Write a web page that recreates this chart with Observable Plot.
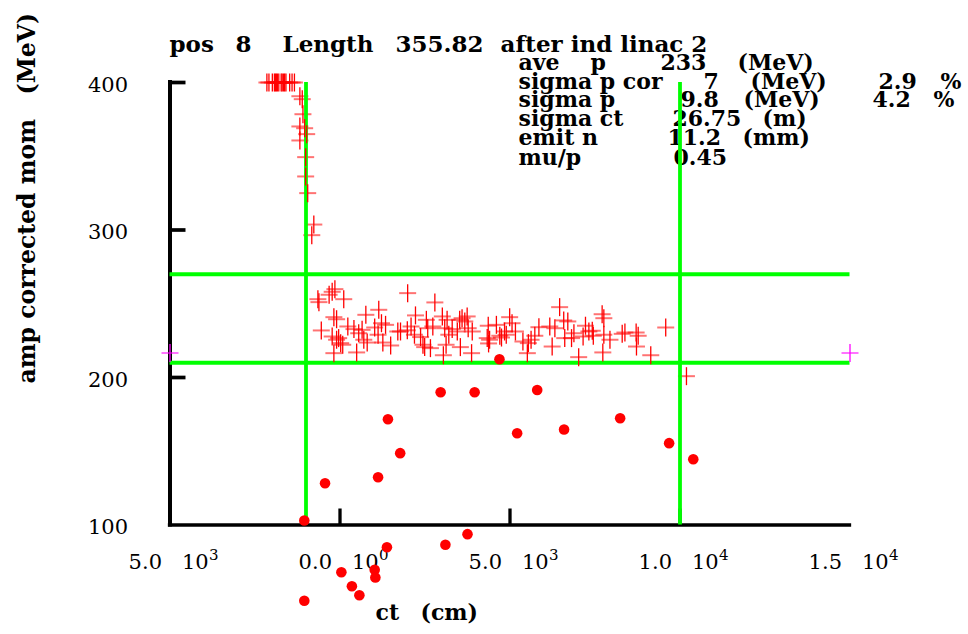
<!DOCTYPE html>
<html>
<head>
<meta charset="utf-8">
<script src="https://cdn.jsdelivr.net/npm/d3@7"></script>
<script src="https://cdn.jsdelivr.net/npm/@observablehq/plot@0.6"></script>
<style>
  html, body { margin: 0; padding: 0; background: #fff; }
  #chart { width: 968px; height: 634px; }
</style>
</head>
<body>
<div id="chart"></div>
<script>
// Longitudinal phase space at pos 8: ct (cm) vs amplitude-corrected momentum (MeV)

// particles piled up at the top of the momentum range
const headCt = [-2150, -2090, -1990, -1930, -1900, -1870, -1840, -1800, -1730, -1700, -1660, -1630, -1590, -1480, -1410, -1340,
  -1180, -1110, -1090, -1180, -1180, -1040, -980, -1010, -1010, -950, -770, -830];
const headP = [400, 400, 400, 400, 400, 400, 400, 400, 400, 400, 400, 400, 400, 400, 400, 400,
  390.7, 388.7, 378.5, 370.2, 360.7, 369.0, 365.0, 349.4, 336.3, 325.0, 303.7, 296.5];

// main bunch
const coreCt = [-650, -620, -320, -230, -150, 110, -550, -180, -100, -230, -100, -40, 20, 80, -180, 230, 410, 490, 550, 650,
  700, 800, 760, 1140, 1120, 1220, 1340, 1490, 1700, 1020, 1260,
  1990, 2790, 1780, 1980, 2090, 2220, 2190, 2370, 2440, 2490, 2540, 2580, 2660, 2730, 3010, 3040, 3080, 3150, 3120, 3200,
  3300, 3450, 3520, 3590, 3670, 3740, 3770, 3540, 3870, 3890, 4360, 4330, 4400, 4370,
  4600, 4700, 4750, 4840, 4890, 4990, 5060, 5160, 5380, 5510, 5540, 5620, 5730, 5850, 6170, 6240, 6320, 6460, 6580, 6700,
  6610, 6810, 6880, 7020, 7150, 7320, 7220,
  7420, 7450, 7710, 7760, 7760, 7940, 7730, 8300, 8380, 8710, 8770, 8720, 9140, 9580, 10190];
const coreP = [253.1, 251.1, 256.1, 258.1, 259.9, 253.1, 231.9, 240.9, 239.5, 227.8, 225.6, 226.7, 223.3, 222.2, 216.5, 234.6, 232.8, 217.0, 230.0, 232.3,
  225.6, 223.7, 242.5, 245.9, 229.0, 236.8, 235.7, 221.7, 231.2, 233.9, 223.7,
  257.2, 250.9, 231.2, 232.0, 234.6, 242.1, 229.0, 227.4, 222.2, 220.6, 239.1, 233.4, 219.9, 234.6, 241.4, 215.1, 233.4, 239.1, 222.2, 229.0,
  232.8, 231.2, 239.1, 240.2, 238.0, 241.4, 233.4, 220.6, 216.5, 231.2, 235.1, 226.7, 225.6, 223.1,
  235.7, 228.3, 227.1, 231.2, 229.0, 240.9, 236.8, 231.2, 224.4, 216.5, 223.3, 225.6, 228.3, 234.1, 234.6, 221.0, 233.4, 247.7, 238.7, 238.0,
  226.7, 226.7, 230.0, 213.8, 227.8, 231.2, 235.1,
  231.7, 228.3, 242.9, 240.2, 229.0, 225.6, 217.0, 229.6, 230.5, 230.5, 228.3, 221.0, 215.1, 233.9, 200.9];

// muons
const muCt = [-1050, -440, 1120, 1410, 1770, 2960, 3960, 5800, 5210, 6590, 8240, 9680, 10390, 4690,
  1380, 3100, 3750, 40, 1020, 1040, 350, 570, -1050];
const muP = [103.1, 128.3, 132.4, 171.7, 148.7, 190.0, 190.0, 191.5, 162.2, 164.7, 172.4, 155.5, 144.6, 212.4,
  84.9, 86.6, 93.8, 68.0, 69.6, 64.4, 58.5, 52.4, 48.6];

// reference markers at the plot edges
const refCt = [-5000, 15000];
const refP = [216.6, 216.6];

// acceptance window
const cutCt = [-1000, 10000];
const cutP = [210, 270];

// axes
const xTicks = [-5000, 0, 5000, 10000, 15000];
const xMantissa = ["5.0", "0.0", "5.0", "1.0", "1.5"];
const xExponent = ["3", "0", "3", "4", "4"];
const xTickMarks = [0, 5000, 10000];
const yTicks = [100, 200, 300, 400];
const yTickMarks = [200, 300, 400];

// heading and beam statistics
const titleWords = ["pos", "8", "Length", "355.82", "after ind linac 2"];
const statRows = [
  ["ave", "p", "233", "(MeV)"],
  ["sigma p cor", "7", "(MeV)", "2.9", "%"],
  ["sigma p", "9.8", "(MeV)", "4.2", "%"],
  ["sigma ct", "26.75", "(m)"],
  ["emit n", "11.2", "(mm)"],
  ["mu/p", "0.45"]
];
const xLabel = ["ct", "(cm)"];
const yLabel = "amp corrected mom\u00a0\u00a0\u00a0(MeV)";

// ---- layout (pixels) ----
const W = 968, H = 634;
const ML = 169.5, MR = 118.5, MT = 82, MB = 109.5;
const titleX = [169, 235, 282, 395, 500];
const titleBase = 51;
const statX = [
  [518, 590, 660, 737],
  [518, 703, 750, 878, 940],
  [518, 680, 743, 872, 933],
  [518, 672, 762],
  [518, 667, 742],
  [518, 673]
];
const statBase = [69, 88, 106.5, 125, 144, 164];
const xLabelX = [375, 420];
const xLabelBase = 619;

const boldFont = "DejaVu Serif";
const tickFont = "DejaVu Serif";

const zip = (cts, ps) => cts.map((ct, i) => ({ct, p: ps[i]}));
const crosses = zip(headCt.concat(coreCt), headP.concat(coreP));
const muons = zip(muCt, muP);
const refs = zip(refCt, refP);
const xTickRows = xTicks.map((v, i) => ({v, m: xMantissa[i], e: xExponent[i]}));

// gnuplot-style "+" drawn as two separate strokes
const hBar = {draw(ctx) { ctx.moveTo(-8.5, 0); ctx.lineTo(8.5, 0); }};
const vBar = {draw(ctx) { ctx.moveTo(0, -9); ctx.lineTo(0, 9); }};

function label(text, px, py, opts = {}) {
  return Plot.text([text], {
    text: d => d, frameAnchor: "top-left", dx: px - ML, dy: py - MT,
    textAnchor: "start", lineAnchor: "bottom", fontSize: 22, fontWeight: "bold",
    fontFamily: boldFont, fill: "black", ...opts
  });
}

const textMarks = [];
titleWords.forEach((w, i) => textMarks.push(label(w, titleX[i], titleBase, {fontSize: 23})));
statRows.forEach((row, r) => row.forEach((w, c) => textMarks.push(label(w, statX[r][c], statBase[r]))));
xLabel.forEach((w, i) => textMarks.push(label(w, xLabelX[i], xLabelBase)));
textMarks.push(label(yLabel, 34, 383, {rotate: -90, fontSize: 23.5}));

const chart = Plot.plot({
  width: W, height: H,
  marginLeft: ML, marginRight: MR, marginTop: MT, marginBottom: MB,
  x: {domain: [-5000, 15000], axis: null},
  y: {domain: [100, 400], axis: null},
  style: {background: "white", overflow: "visible", fontFamily: tickFont},
  marks: [
    ...textMarks,
    // axis lines and inward ticks
    Plot.ruleX([-5000], {y1: 100, y2: 400, stroke: "black", strokeWidth: 4, strokeLinecap: "square"}),
    Plot.ruleY([100], {x1: -5000, x2: 15000, stroke: "black", strokeWidth: 3.3, strokeLinecap: "square"}),
    Plot.ruleY(yTickMarks, {y: d => d, x1: -5000, x2: -5000, insetLeft: 16, stroke: "black", strokeWidth: 3.7}),
    Plot.ruleX(xTickMarks, {x: d => d, y1: 100, y2: 100, insetBottom: 16, stroke: "black", strokeWidth: 3.3}),
    // tick labels
    Plot.text(yTicks, {x: -5000, y: d => d, text: d => String(d), textAnchor: "end", lineAnchor: "bottom",
      dx: -42, dy: 9, fontSize: 21, fill: "black"}),
    Plot.text(xTickRows, {x: "v", y: 100, text: "m", textAnchor: "end", lineAnchor: "bottom",
      dx: -8, dy: 43.5, fontSize: 21, fill: "black"}),
    Plot.text(xTickRows, {x: "v", y: 100, text: () => "10", textAnchor: "start", lineAnchor: "bottom",
      dx: 12, dy: 43.5, fontSize: 21, fill: "black"}),
    Plot.text(xTickRows, {x: "v", y: 100, text: "e", textAnchor: "start", lineAnchor: "bottom",
      dx: 39, dy: 35, fontSize: 15, fill: "black"}),
    // horizontal strokes of the particle crosses
    Plot.dot(crosses, {x: "ct", y: "p", symbol: hBar, fill: "none", stroke: "#ff0000", strokeOpacity: 0.55, strokeWidth: 2}),
    // acceptance window
    Plot.ruleX(cutCt, {x: d => d, y1: 100, y2: 400, stroke: "#00ff00", strokeWidth: 3.8}),
    Plot.ruleY(cutP, {y: d => d, x1: -5000, x2: 15000, stroke: "#00ff00", strokeWidth: 3.8}),
    // vertical strokes of the particle crosses
    Plot.dot(crosses, {x: "ct", y: "p", symbol: vBar, fill: "none", stroke: "#ff0000", strokeWidth: 1.3}),
    // muons
    Plot.dot(muons, {x: "ct", y: "p", r: 5.3, fill: "#ff0000", stroke: "none"}),
    // reference markers
    Plot.dot(refs, {x: "ct", y: "p", symbol: hBar, fill: "none", stroke: "#ff00ff", strokeOpacity: 0.55, strokeWidth: 2}),
    Plot.dot(refs, {x: "ct", y: "p", symbol: vBar, fill: "none", stroke: "#ff00ff", strokeWidth: 1.3})
  ]
});
document.getElementById("chart").appendChild(chart);
</script>
</body>
</html>
